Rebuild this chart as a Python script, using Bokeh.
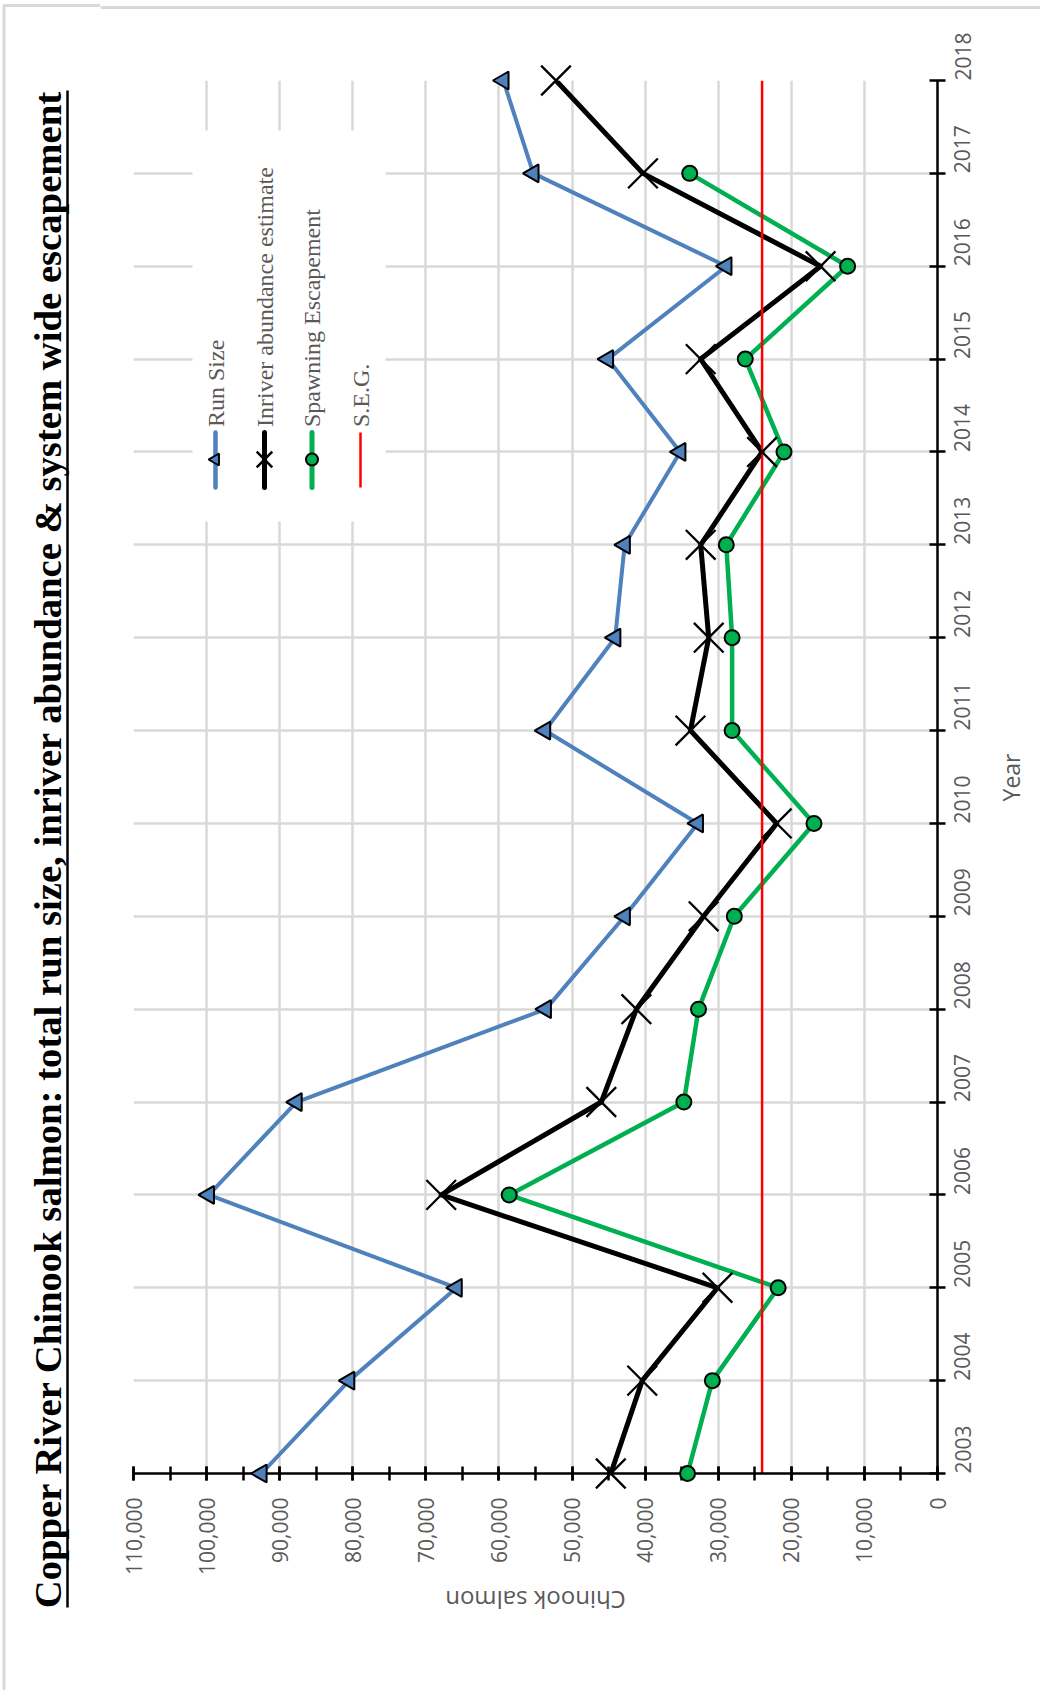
import math
from bokeh.plotting import figure
from bokeh.layouts import row, column
from bokeh.models import Range1d, SingleIntervalTicker, NumeralTickFormatter, Label
from bokeh.core.properties import value
from bokeh.embed import file_html
from bokeh.resources import INLINE

# ---------------- data ----------------
years = list(range(2003, 2019))
run_size = [92500, 80500, 65800, 99700, 87700, 53600, 42800, 32800,
            53700, 44100, 42800, 35200, 45100, 28900, 55300, 59400]
inriver = [44700, 40400, 30100, 67900, 46000, 41200, 32000, 22000,
           33800, 31300, 32400, 24000, 32400, 16000, 40300, 52200]
spawning = [34200, 30800, 21800, 58600, 34700, 32700, 27800, 16900,
            28100, 28100, 28900, 21000, 26300, 12300, 33900, float("nan")]
seg_value = 24000
value_min, value_max = 0, 110000

title_text = "Copper River Chinook salmon: total run size, inriver abundance & system wide escapement"
series_names = ["Run Size", "Inriver  abundance estimate", "Spawning Escapement", "S.E.G."]
x_title = "Chinook salmon"
y_title = "Year"

# ---------------- layout ----------------
H = 1690
TW = 100                 # width of the title strip (left)
RX = 992                 # page x where the right strip (axis title) begins
MW = 1040 - TW           # width of the main column
PW = RX - TW             # width of the main figure
RW = 1040 - RX           # width of the right strip
TOP_H = 10               # thin strip holding the outer border line
MAIN_H = 1573            # main figure height
BOT_H = H - TOP_H - MAIN_H
FL, FT, FW, FH = 33, 70, 804, 1393   # frame inside the main canvas
PAGE_TOP = TOP_H

def val_at(page_x):
    cx = page_x - TW
    return value_max - (cx - FL) / FW * (value_max - value_min)

def year_at(page_y):
    cy = page_y - PAGE_TOP
    return years[-1] - (cy - FT) / FH * (years[-1] - years[0])

BLUE = "#4f81bd"
GREEN = "#00b050"
RED = "#ff0000"
GRAY_TXT = "#595959"
GRID = "#d9d9d9"

def strip(width, height, x0, x1, y0, y1):
    f = figure(width=width, height=height, x_range=Range1d(x0, x1), y_range=Range1d(y0, y1),
               output_backend="svg", toolbar_location=None,
               min_border=0, min_border_left=0, min_border_right=0,
               min_border_top=0, min_border_bottom=0)
    f.axis.visible = False
    f.xgrid.visible = False
    f.ygrid.visible = False
    f.outline_line_color = None
    f.background_fill_color = "white"
    f.border_fill_color = "white"
    if "frame_align" in f.properties():
        f.frame_align = False
    return f

# ---------------- title strip (coordinates: x = page x, y = -page y) ----------------
t = strip(TW, H, 0, TW, -H, 0)
t.text(x=[47.5], y=[-848.5], text=[title_text], angle=math.pi / 2,
       text_align="center", text_baseline="middle",
       text_font=value("Liberation Serif"), text_font_style="bold",
       text_font_size=value("38.7px"), text_color="black")
t.segment(x0=[67], y0=[-90], x1=[67], y1=[-1607], line_color="black", line_width=2.5)
t.segment(x0=[3.5], y0=[-4], x1=[3.5], y1=[-H], line_color=GRID, line_width=3)
t.segment(x0=[3.5], y0=[-5], x1=[TW], y1=[-5], line_color=GRID, line_width=3)

# ---------------- top border strip ----------------
top = strip(MW, TOP_H, TW, 1040, -TOP_H, 0)
top.segment(x0=[TW], y0=[-5], x1=[1040], y1=[-5], line_color=GRID, line_width=3)

# ---------------- right strip with the year-axis title ----------------
rs = strip(RW, MAIN_H, RX, 1040, -(TOP_H + MAIN_H), -TOP_H)
rs.text(x=[1010], y=[-777], text=[y_title], angle=math.pi / 2,
        text_align="center", text_baseline="middle",
        text_font=value("Open Sans"), text_font_size=value("23px"), text_color=GRAY_TXT)

# ---------------- bottom strip with the value-axis title ----------------
bot = strip(MW, BOT_H, TW, 1040, -H, -(H - BOT_H))
bot.text(x=[TW + FL + FW / 2], y=[-1600], text=[x_title], angle=math.pi,
         text_align="center", text_baseline="middle",
         text_font=value("Open Sans"), text_font_size=value("24px"), text_color=GRAY_TXT)

# ---------------- main figure ----------------
p = figure(width=PW, height=MAIN_H,
           x_range=Range1d(value_max, value_min),
           y_range=Range1d(years[0], years[-1]),
           y_axis_location="right", x_axis_location="below",
           output_backend="svg", toolbar_location=None,
           min_border_left=FL, min_border_top=FT,
           min_border_right=PW - FL - FW, min_border_bottom=MAIN_H - FT - FH)
p.outline_line_color = None
p.background_fill_color = "white"
p.border_fill_color = "white"
if "frame_align" in p.properties():
    p.frame_align = False

xa = p.xaxis[0]
xa.ticker = SingleIntervalTicker(interval=10000, num_minor_ticks=2)
xa.formatter = NumeralTickFormatter(format="0,0")
xa.major_label_orientation = math.pi / 2
xa.major_tick_in = 7
xa.major_tick_out = 7
xa.minor_tick_in = 7
xa.minor_tick_out = 7
xa.axis_line_width = 2.5
xa.major_tick_line_width = 2.5
xa.minor_tick_line_width = 2.5
xa.axis_line_color = "black"
xa.major_tick_line_color = "black"
xa.minor_tick_line_color = "black"
xa.major_label_standoff = 17
xa.major_label_text_font = "Open Sans"
xa.major_label_text_font_size = "21px"
xa.major_label_text_color = GRAY_TXT

ya = p.yaxis[0]
ya.ticker = SingleIntervalTicker(interval=1, num_minor_ticks=0)
ya.major_label_orientation = math.pi / 2
ya.major_tick_in = 8
ya.major_tick_out = 8
ya.minor_tick_line_color = None
ya.axis_line_width = 2.5
ya.major_tick_line_width = 2.5
ya.axis_line_color = "black"
ya.major_tick_line_color = "black"
ya.major_label_standoff = 17
ya.major_label_text_font = "Open Sans"
ya.major_label_text_font_size = "21px"
ya.major_label_text_color = GRAY_TXT

p.xgrid.grid_line_color = GRID
p.xgrid.grid_line_width = 2.5
p.ygrid.grid_line_color = GRID
p.ygrid.grid_line_width = 2.5

# ---------------- legend box (white background) ----------------
p.quad(left=[val_at(192)], right=[val_at(385)], bottom=[year_at(521)], top=[year_at(130)],
       fill_color="white", line_color=None)

# ---------------- series ----------------
p.line(run_size, years, line_color=BLUE, line_width=4, line_join="round")
p.line(inriver, years, line_color="black", line_width=5, line_join="round")
p.line(spawning, years, line_color=GREEN, line_width=4.5, line_join="round")

markers = [
    p.scatter(run_size, years, marker="triangle", angle=math.pi / 2, size=18,
              fill_color=BLUE, line_color="black", line_width=2),
    p.scatter(inriver, years, marker="x", size=42, line_color="black", line_width=2.3),
    p.scatter(spawning, years, marker="circle", size=15,
              fill_color=GREEN, line_color="black", line_width=2),
]
p.line([seg_value, seg_value], [years[0], years[-1]], line_color=RED, line_width=2.5)
for r in markers:
    r.level = "overlay"

# ---------------- legend entries ----------------
leg_cols_px = [215, 264, 311.5, 360]
leg_styles = [
    dict(color=BLUE, width=4.5, marker="triangle", fill=BLUE, size=12, mlw=2),
    dict(color="black", width=5, marker="x", fill=None, size=22, mlw=2.5),
    dict(color=GREEN, width=5, marker="circle", fill=GREEN, size=12, mlw=2),
    dict(color=RED, width=2.5, marker=None, fill=None, size=0, mlw=0),
]
y_line0, y_line1, y_mark, y_text = year_at(487), year_at(432), year_at(459), year_at(426.5)
for name, cx, st in zip(series_names, leg_cols_px, leg_styles):
    xv = val_at(cx)
    cap = "butt" if st["marker"] is None else "round"
    p.segment(x0=[xv], y0=[y_line0], x1=[xv], y1=[y_line1],
              line_color=st["color"], line_width=st["width"], line_cap=cap)
    if st["marker"] == "triangle":
        p.scatter([xv], [y_mark], marker="triangle", angle=math.pi / 2, size=st["size"],
                  fill_color=st["fill"], line_color="black", line_width=st["mlw"])
    elif st["marker"] == "x":
        p.scatter([xv], [y_mark], marker="x", size=st["size"], line_color="black",
                  line_width=st["mlw"])
    elif st["marker"] == "circle":
        p.scatter([xv], [y_mark], marker="circle", size=st["size"],
                  fill_color=st["fill"], line_color="black", line_width=st["mlw"])
    p.add_layout(Label(x=val_at(cx), y=y_text, text=name, angle=math.pi / 2,
                       text_align="left", text_baseline="middle",
                       text_font="Liberation Serif", text_font_size="24px",
                       text_color=GRAY_TXT))

layout = row(t, column(top, row(p, rs, spacing=0), bot, spacing=0), spacing=0)
open("out.html", "w").write(file_html(layout, INLINE))
